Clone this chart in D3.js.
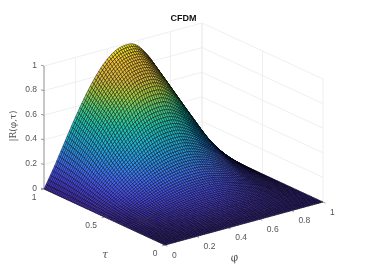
<!DOCTYPE html>
<html>
<head>
<meta charset="utf-8">
<style>
  html, body { margin: 0; padding: 0; background: #fff; }
  text { font-family: "Liberation Sans", Arial, sans-serif; }
  /* reference is a soft downscaled export */
  svg { filter: blur(0.4px); }
</style>
<script src="https://cdnjs.cloudflare.com/ajax/libs/d3/7.8.5/d3.min.js"></script>
</head>
<body>
<div id="chart"></div>
<script>
// surface height: profile along phi at tau = 1
var phiProfile = [
  0, .033, .066, .098, .131, .163, .199, .235, .271, .307, .343, .379, .414, .449, .483, .517,
  .550, .583, .615, .646, .677, .706, .735, .762, .788, .813, .836, .859, .879, .898, .916,
  .931, .945, .958, .968, .976, .982, .986, .989, .990, .990, .989, .985, .977, .965, .950,
  .932, .911, .889, .865, .840, .810, .780, .748, .714, .680, .645, .609, .573, .537, .500,
  .460, .420, .380, .340, .300, .266, .234, .203, .171, .140, .111, .083, .055, .027, 0
];
// and how it grows going from tau = 0 to tau = 1
var tauProfile = [
  0, .001, .002, .003, .004, .005, .007, .010, .012, .015, .018, .022, .026, .031, .035, .040,
  .046, .052, .058, .065, .072, .079, .087, .095, .103, .112, .121, .130, .140, .150, .160,
  .172, .184, .197, .211, .225, .239, .253, .268, .284, .300, .317, .334, .352, .371, .390,
  .410, .431, .452, .473, .495, .518, .541, .564, .587, .610, .637, .664, .691, .717, .743,
  .765, .786, .806, .825, .843, .860, .877, .893, .909, .924, .939, .954, .970, .985, 1
];
var zTicks = [0, 0.2, 0.4, 0.6, 0.8, 1];
var phiTicks = [0, 0.2, 0.4, 0.6, 0.8, 1];
var tauTicks = [0, 0.5, 1];
var parula = ["#3e26a8", "#4746eb", "#3e70ff", "#2797eb", "#1cb5d5", "#1ec7b1", "#4fd17d", "#a5cc3f", "#dcb83a", "#f2c030", "#f5f018"];

var width = 372, height = 274;
var svg = d3.select("#chart").append("svg")
    .attr("width", width)
    .attr("height", height)
    .style("display", "block");

// oblique projection: each data axis moves the pixel along its own direction
var phiX = d3.scaleLinear().domain([0, 1]).range([0, 158]),
    phiY = d3.scaleLinear().domain([0, 1]).range([0, -43]),
    tauX = d3.scaleLinear().domain([0, 1]).range([0, -121]),
    tauY = d3.scaleLinear().domain([0, 1]).range([0, -56]),
    zY = d3.scaleLinear().domain([0, 1]).range([0, -123]);
var x0 = 165, y0 = 245;
function px(p, t) { return x0 + phiX(p) + tauX(t); }
function py(p, t, z) { return y0 + phiY(p) + tauY(t) + zY(z); }

var color = d3.scaleLinear()
    .domain(d3.range(parula.length).map(function(d) { return d / (parula.length - 1); }))
    .range(parula)
    .interpolate(d3.interpolateRgb);

var phiIndex = d3.scaleLinear().domain([0, phiProfile.length - 1]).range([0, 1]);
var tauIndex = d3.scaleLinear().domain([0, tauProfile.length - 1]).range([0, 1]);

// back walls and floor grid
var grid = svg.append("g").attr("stroke", "#ebebeb").attr("stroke-width", 0.8).attr("fill", "none");
function seg(g, a, b) {
    g.append("line").attr("x1", a[0]).attr("y1", a[1]).attr("x2", b[0]).attr("y2", b[1]);
}
zTicks.forEach(function(z) {
    seg(grid, [px(0, 1), py(0, 1, z)], [px(1, 1), py(1, 1, z)]);
    seg(grid, [px(1, 1), py(1, 1, z)], [px(1, 0), py(1, 0, z)]);
});
phiTicks.forEach(function(p) {
    seg(grid, [px(p, 1), py(p, 1, 0)], [px(p, 1), py(p, 1, 1)]);
    seg(grid, [px(p, 0), py(p, 0, 0)], [px(p, 1), py(p, 1, 0)]);
});
tauTicks.forEach(function(t) {
    seg(grid, [px(1, t), py(1, t, 0)], [px(1, t), py(1, t, 1)]);
    seg(grid, [px(0, t), py(0, t, 0)], [px(1, t), py(1, t, 0)]);
});

// axis lines
var axes = svg.append("g").attr("stroke", "#8c8c8c").attr("stroke-width", 0.9).attr("fill", "none");
seg(axes, [px(0, 1), py(0, 1, 0)], [px(0, 1), py(0, 1, 1)]);
seg(axes, [px(0, 1), py(0, 1, 0)], [px(0, 0), py(0, 0, 0)]);
seg(axes, [px(0, 0), py(0, 0, 0)], [px(1, 0), py(1, 0, 0)]);
zTicks.forEach(function(z) {
    seg(axes, [px(0, 1), py(0, 1, z)], [px(0, 1) - 3, py(0, 1, z) - 0.8]);
});
phiTicks.forEach(function(p) {
    seg(axes, [px(p, 0), py(p, 0, 0)], [px(p, 0) + 2.4, py(p, 0, 0) + 1.1]);
});
tauTicks.forEach(function(t) {
    seg(axes, [px(0, t), py(0, t, 0)], [px(0, t) - 3, py(0, t, 0) + 0.8]);
});

// the surface, painted far corner first
var mesh = svg.append("g").attr("stroke", "#000").attr("stroke-width", 0.45).attr("stroke-linejoin", "round");
for (var i = phiProfile.length - 2; i >= 0; i--) {
    for (var j = tauProfile.length - 2; j >= 0; j--) {
        var corners = [[i, j], [i + 1, j], [i + 1, j + 1], [i, j + 1]];
        var zs = corners.map(function(c) { return phiProfile[c[0]] * tauProfile[c[1]]; });
        var pts = corners.map(function(c, k) {
            var p = phiIndex(c[0]), t = tauIndex(c[1]);
            return [px(p, t).toFixed(2), py(p, t, zs[k]).toFixed(2)];
        });
        mesh.append("path")
            .attr("d", "M" + pts.join("L") + "Z")
            .attr("fill", color(d3.mean(zs)));
    }
}

// labels
var fmt = function(d) { return String(d); };
var labels = svg.append("g").attr("fill", "#555").attr("font-size", 8.5);
zTicks.forEach(function(z) {
    labels.append("text").attr("x", px(0, 1) - 7).attr("y", py(0, 1, z) + 1.5)
        .attr("text-anchor", "end").text(fmt(z));
});
phiTicks.forEach(function(p) {
    labels.append("text").attr("x", px(p, 0) + 7).attr("y", py(p, 0, 0) + 12.5)
        .attr("text-anchor", "start").text(fmt(p));
});
tauTicks.forEach(function(t) {
    labels.append("text").attr("x", px(0, t) - 7.5).attr("y", py(0, t, 0) + 11)
        .attr("text-anchor", "end").text(fmt(t));
});

svg.append("text").attr("x", 183.5).attr("y", 21).attr("text-anchor", "middle")
    .attr("font-size", 9).attr("font-weight", "bold").attr("fill", "#111").text("CFDM");
svg.append("text").attr("x", 105).attr("y", 258).attr("text-anchor", "middle")
    .attr("font-size", 11).attr("font-style", "italic").attr("fill", "#555")
    .style("font-family", "'DejaVu Serif', serif").text("τ");
svg.append("text").attr("transform", "translate(235,261) rotate(-15)").attr("text-anchor", "middle")
    .attr("font-size", 11).attr("font-style", "italic").attr("fill", "#555")
    .style("font-family", "'DejaVu Serif', serif").text("φ");
svg.append("text").attr("transform", "translate(16,126) rotate(-90)").attr("text-anchor", "middle")
    .attr("font-size", 9).attr("fill", "#555")
    .style("font-family", "'DejaVu Serif', serif").text("|R(φ,τ)");
</script>
</body>
</html>
